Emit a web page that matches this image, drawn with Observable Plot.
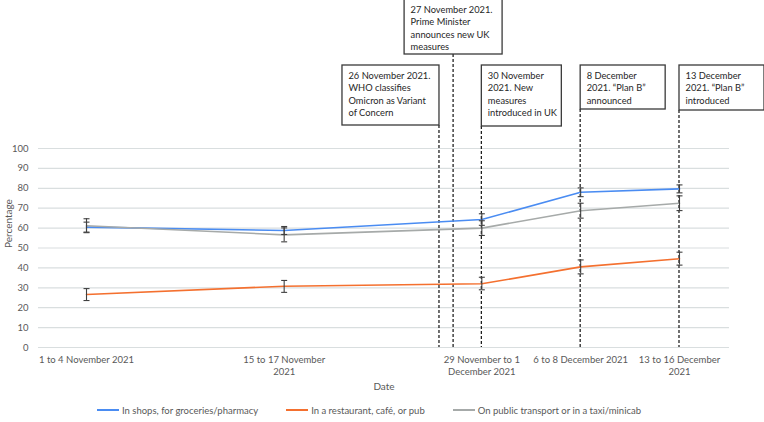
<!DOCTYPE html>
<html>
<head>
<meta charset="utf-8">
<script src="https://cdn.jsdelivr.net/npm/d3@7"></script>
<script src="https://cdn.jsdelivr.net/npm/@observablehq/plot@0.6"></script>
<style>
  html, body { margin: 0; padding: 0; background: #fff; }
  body { width: 764px; height: 422px; overflow: hidden; font-family: Lato, "Open Sans", sans-serif; }
  #legend { display: flex; justify-content: center; gap: 28px; height: 24px; align-items: center;
            font-size: 9.5px; color: #595959; padding-right: 26px; }
  #legend .item { display: flex; align-items: center; gap: 3px; }
  #legend .sw { width: 22px; height: 1.6px; display: inline-block; }
</style>
</head>
<body>
<div id="chart"></div>
<div id="legend"></div>
<script>
// ---- data ----
const waveDates = ["2021-11-01", "2021-11-15", "2021-11-29", "2021-12-06", "2021-12-13"];
const waveLabels = ["1 to 4 November 2021", "15 to 17 November\n2021", "29 November to 1\nDecember 2021", "6 to 8 December 2021", "13 to 16 December\n2021"];
const seriesNames = ["In shops, for groceries/pharmacy", "In a restaurant, café, or pub", "On public transport or in a taxi/minicab"];
const shops = [60.5, 58.8, 64.3, 78.0, 79.7];
const shopsLow = [58.0, 56.8, 61.4, 75.8, 77.7];
const shopsHigh = [63.0, 60.8, 67.2, 80.2, 81.7];
const restaurant = [26.6, 30.8, 32.0, 40.5, 44.6];
const restaurantLow = [23.6, 27.7, 29.0, 37.0, 41.4];
const restaurantHigh = [29.6, 33.7, 35.3, 44.0, 47.9];
const transport = [61.2, 56.6, 60.0, 68.7, 72.5];
const transportLow = [57.7, 53.1, 56.3, 65.0, 68.8];
const transportHigh = [64.7, 60.1, 63.7, 72.5, 76.2];
const yTicks = [0, 10, 20, 30, 40, 50, 60, 70, 80, 90, 100];
const eventDates = ["2021-11-26", "2021-11-27", "2021-11-29", "2021-12-06", "2021-12-13"];
const eventTexts = [
  ["26 November 2021.", "WHO classifies", "Omicron as Variant", "of Concern"],
  ["27 November 2021.", "Prime Minister", "announces new UK", "measures"],
  ["30 November", "2021. New", "measures", "introduced in UK"],
  ["8 December", "2021. \u201CPlan B\u201D", "announced"],
  ["13 December", "2021. \u201CPlan B\u201D", "introduced"]
];

// ---- styles / layout ----
const colors = ["#4a8cf2", "#f4702f", "#a6aaa9"];
const boxLayout = [
  {align: "right", top: 65, height: 60, width: 97},
  {align: "center", top: -1, height: 55, width: 98},
  {align: "left", top: 65, height: 61, width: 80},
  {align: "left", top: 65, height: 44, width: 85},
  {align: "left", top: 65, height: 45, width: 85}
];

const parse = d3.utcParse("%Y-%m-%d");
const values = [shops, restaurant, transport];
const lows = [shopsLow, restaurantLow, transportLow];
const highs = [shopsHigh, restaurantHigh, transportHigh];
const rows = [];
values.forEach((vals, s) => vals.forEach((v, i) => rows.push({
  series: seriesNames[s], date: parse(waveDates[i]), value: v, low: lows[s][i], high: highs[s][i]
})));
const tickDates = waveDates.map(parse);
const labelOf = new Map(tickDates.map((d, i) => [+d, waveLabels[i]]));

const capSymbol = { draw(ctx) { ctx.moveTo(-3, 0); ctx.lineTo(3, 0); } };

function events(index, scales, vals, dims) {
  const g = d3.create("svg:g");
  const y0 = scales.y(0);
  eventDates.forEach((ds, i) => {
    const cx = scales.x(parse(ds));
    const L = boxLayout[i];
    const left = L.align === "right" ? cx - L.width : L.align === "center" ? cx - L.width / 2 : cx;
    g.append("line").attr("x1", cx).attr("x2", cx).attr("y1", L.top + L.height).attr("y2", y0)
      .attr("stroke", "#111").attr("stroke-width", 1.2).attr("stroke-dasharray", "3,2");
    g.append("rect").attr("x", left).attr("y", L.top).attr("width", L.width).attr("height", L.height)
      .attr("fill", "#fff").attr("stroke", "#3a3a3a").attr("stroke-width", 1.3);
    const t = g.append("text").attr("font-size", 9.3).attr("fill", "#262626")
      .attr("text-anchor", "start").style("text-anchor", "start")
      .attr("font-family", "Lato, sans-serif");
    eventTexts[i].forEach((line, j) => {
      t.append("tspan").attr("x", left + 6.5).attr("y", L.top + 10.5 + j * 12.5).attr("dy", "0.35em").text(line);
    });
  });
  return g.node();
}

const chart = Plot.plot({
  width: 764,
  height: 398,
  marginLeft: 38,
  marginRight: 35,
  marginTop: 148,
  marginBottom: 51,
  style: { fontFamily: "Lato, sans-serif", background: "#fff" },
  x: { type: "utc", domain: [new Date(Date.UTC(2021, 9, 28, 14, 24)), new Date(Date.UTC(2021, 11, 16, 13))] },
  y: { domain: [0, 100] },
  color: { domain: seriesNames, range: colors },
  marks: [
    Plot.gridY(yTicks, { stroke: "#d9dedf", strokeOpacity: 1, strokeWidth: 1.2 }),
    Plot.axisY(yTicks, { tickSize: 0, tickPadding: 10, fontSize: 9.5, color: "#595959", label: null }),
    Plot.axisX(tickDates, { tickSize: 0, tickPadding: 6, fontSize: 9.5, color: "#595959", label: null,
      lineHeight: 1.35, tickFormat: d => labelOf.get(+d) }),
    Plot.text(["Date"], { frameAnchor: "bottom", dy: 42, fontSize: 10, fill: "#595959" }),
    Plot.text(["Percentage"], { frameAnchor: "left", dx: -30, rotate: -90, fontSize: 10, fill: "#595959" }),
    events,
    Plot.line(rows, { x: "date", y: "value", z: "series", stroke: "series", strokeWidth: 1.6 }),
    Plot.ruleX(rows, { x: "date", y1: "low", y2: "high", stroke: "#404040", strokeWidth: 1.1 }),
    Plot.dot(rows, { x: "date", y: "low", symbol: capSymbol, stroke: "#404040", strokeWidth: 1.1, fill: "none" }),
    Plot.dot(rows, { x: "date", y: "high", symbol: capSymbol, stroke: "#404040", strokeWidth: 1.1, fill: "none" })
  ]
});
document.getElementById("chart").append(chart);

const legend = d3.select("#legend");
seriesNames.forEach((name, i) => {
  const item = legend.append("div").attr("class", "item");
  item.append("span").attr("class", "sw").style("background", colors[i]);
  item.append("span").text(name);
});
</script>
</body>
</html>
